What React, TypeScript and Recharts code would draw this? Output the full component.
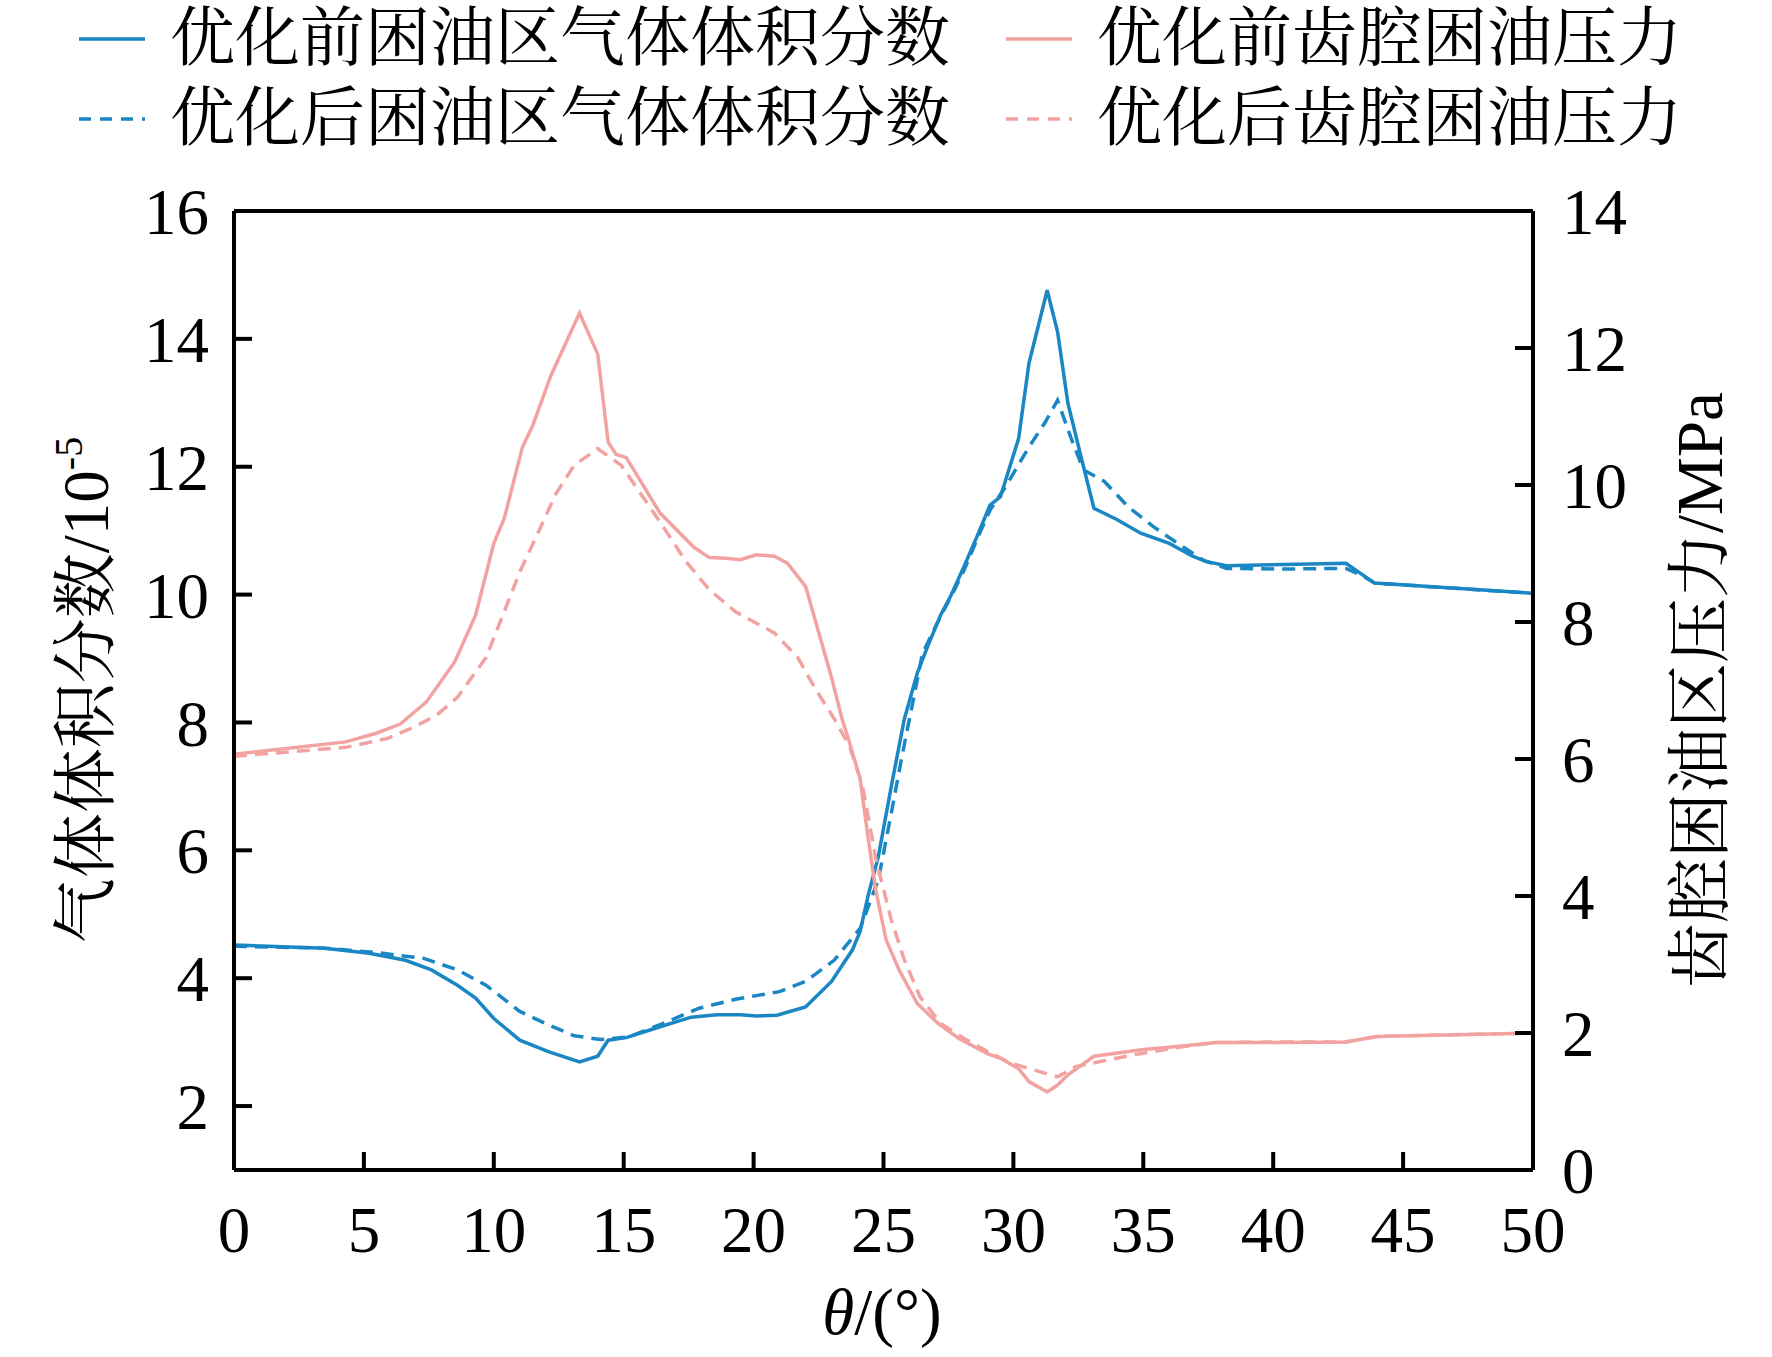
import React from 'react';
import { LineChart, Line, XAxis, YAxis } from 'recharts';

// angle axis and tick values
const thetaTicks = [0, 5, 10, 15, 20, 25, 30, 35, 40, 45, 50];
const gasTicks = [2, 4, 6, 8, 10, 12, 14, 16];
const pressureTicks = [0, 2, 4, 6, 8, 10, 12, 14];

// 优化前困油区气体体积分数 (10^-5)
const gasBeforeTheta = [
  0, 3.5, 5.2, 6.6, 7.6, 8.6, 9.3, 10.0, 11.0, 12.1, 13.3, 14.0, 14.4, 15.1, 16.4, 17.6, 18.6, 19.5,
  20.1, 20.9, 22.0, 23.0, 23.8, 24.1, 24.4, 24.8, 25.3, 25.8, 26.3, 26.7, 27.2, 27.6, 28.1, 28.6, 29.1,
  29.5, 30.2, 30.6, 31.3, 31.7, 32.1, 32.6, 33.1, 34.0, 34.9, 36.0, 36.9, 37.4, 38.2, 40.4, 42.8, 43.9, 50,
];
const gasBeforeValue = [
  4.52, 4.47, 4.39, 4.28, 4.13, 3.89, 3.69, 3.37, 3.03, 2.85, 2.69, 2.78, 3.03, 3.07, 3.24, 3.39, 3.43, 3.43,
  3.41, 3.42, 3.55, 3.95, 4.44, 4.73, 5.28, 5.9, 7.0, 8.05, 8.77, 9.19, 9.68, 9.99, 10.44, 10.91, 11.4,
  11.53, 12.44, 13.62, 14.76, 14.11, 12.99, 12.16, 11.35, 11.17, 10.96, 10.8, 10.6, 10.52, 10.45, 10.47, 10.49, 10.18, 10.02,
];

// 优化后困油区气体体积分数 (10^-5)
const gasAfterTheta = [
  0, 3.5, 5.5, 7.3, 8.6, 9.7, 11.0, 12.1, 13.1, 14.1, 15.2, 16.5, 17.9, 19.3, 21.0, 22.0, 23.1, 24.1,
  24.8, 25.3, 25.7, 26.2, 26.5, 27.1, 27.6, 28.1, 28.7, 29.1, 29.7, 30.6, 31.2, 31.7, 32.2, 32.7, 33.5,
  34.4, 35.4, 36.4, 37.3, 38.2, 40.4, 42.8, 43.5, 43.9, 50,
];
const gasAfterValue = [
  4.5, 4.47, 4.4, 4.31, 4.13, 3.89, 3.48, 3.27, 3.1, 3.04, 3.08, 3.29, 3.53, 3.67, 3.79, 3.95, 4.28, 4.78,
  5.54, 6.58, 7.45, 8.46, 9.08, 9.58, 9.97, 10.38, 10.96, 11.32, 11.69, 12.31, 12.68, 13.04, 12.47, 11.95, 11.77,
  11.38, 11.06, 10.78, 10.54, 10.41, 10.4, 10.41, 10.28, 10.18, 10.02,
];

// 优化前齿腔困油压力 (MPa)
const pressureBeforeTheta = [
  0, 4.3, 5.5, 6.4, 7.4, 8.5, 9.3, 10.0, 10.4, 11.1, 11.5, 12.2, 13.3, 14.0, 14.4, 14.7, 15.1, 16.4,
  17.7, 18.3, 18.9, 19.5, 20.1, 20.8, 21.3, 22.0, 23.0, 23.4, 23.7, 24.1, 24.4, 24.7, 25.1, 25.6, 26.3,
  27.1, 27.9, 29.0, 29.5, 30.2, 30.6, 31.3, 31.7, 32.1, 33.1, 35.0, 36.5, 37.8, 40.4, 42.8, 44.0, 50,
];
const pressureBeforeValue = [
  6.07, 6.25, 6.38, 6.51, 6.83, 7.42, 8.1, 9.15, 9.51, 10.55, 10.87, 11.6, 12.51, 11.91, 10.63, 10.45, 10.4, 9.59,
  9.09, 8.94, 8.93, 8.91, 8.98, 8.96, 8.86, 8.52, 7.19, 6.59, 6.23, 5.71, 4.87, 4.09, 3.36, 2.92, 2.43,
  2.14, 1.92, 1.7, 1.63, 1.48, 1.29, 1.14, 1.24, 1.39, 1.66, 1.76, 1.81, 1.86, 1.86, 1.87, 1.95, 2.0,
];

// 优化后齿腔困油压力 (MPa)
const pressureAfterTheta = [
  0, 4.3, 5.9, 6.9, 7.8, 8.6, 9.7, 10.4, 11.0, 11.7, 12.4, 13.1, 14.0, 14.9, 16.4, 17.4, 18.3, 19.3,
  20.8, 21.7, 22.4, 23.1, 23.7, 24.2, 24.7, 25.3, 25.8, 26.4, 27.2, 28.1, 29.0, 29.9, 30.8, 31.7, 32.4,
  33.3, 34.6, 36.5, 37.8, 40.4, 42.8, 44.0, 50,
];
const pressureAfterValue = [
  6.04, 6.17, 6.3, 6.46, 6.64, 6.9, 7.48, 8.15, 8.73, 9.3, 9.88, 10.29, 10.53, 10.29, 9.46, 8.88, 8.47, 8.15,
  7.84, 7.48, 7.01, 6.59, 6.18, 5.6, 4.55, 3.65, 3.07, 2.53, 2.14, 1.92, 1.73, 1.56, 1.46, 1.36, 1.51,
  1.58, 1.68, 1.8, 1.86, 1.87, 1.87, 1.95, 2.0,
];

const BLUE = '#1a87c4';
const PINK = '#f2a3a1';
const FONT = "'Liberation Serif', 'Times New Roman', 'Noto Serif CJK SC', 'Noto Sans CJK SC', serif";

const toPoints = (theta: number[], value: number[]) => theta.map((t, i) => ({ theta: t, value: value[i] }));

const series = [
  { name: '优化前困油区气体体积分数', color: BLUE, dash: undefined, axis: 'gas', data: toPoints(gasBeforeTheta, gasBeforeValue) },
  { name: '优化后困油区气体体积分数', color: BLUE, dash: '13 8', axis: 'gas', data: toPoints(gasAfterTheta, gasAfterValue) },
  { name: '优化前齿腔困油压力', color: PINK, dash: undefined, axis: 'pressure', data: toPoints(pressureBeforeTheta, pressureBeforeValue) },
  { name: '优化后齿腔困油压力', color: PINK, dash: '13 8', axis: 'pressure', data: toPoints(pressureAfterTheta, pressureAfterValue) },
];

const TICK_LEN = 18;
const AXIS_W = 4;

// legend order: column by column as in the figure
const legendSlots = [
  { s: 0, left: 79, top: 6 },
  { s: 1, left: 79, top: 86 },
  { s: 2, left: 1006, top: 6 },
  { s: 3, left: 1006, top: 86 },
];

function LegendBox() {
  return (
    <div style={{ position: 'absolute', left: 0, top: 0, width: 1772, height: 160, fontFamily: FONT }}>
      {legendSlots.map(({ s, left, top }) => (
        <div key={s} style={{ position: 'absolute', left, top, height: 65, display: 'flex', alignItems: 'center' }}>
          <svg width={66} height={10} style={{ display: 'block' }}>
            <line x1={0} x2={66} y1={5} y2={5} stroke={series[s].color} strokeWidth={3.5} strokeDasharray={series[s].dash ? '12 9' : undefined} />
          </svg>
          <span style={{ marginLeft: 25, fontSize: 65, lineHeight: '65px', color: '#000', whiteSpace: 'nowrap' }}>
            {series[s].name}
          </span>
        </div>
      ))}
    </div>
  );
}

const labelText = { fontSize: 65, fontFamily: FONT, fill: '#000' };
const axisStroke = { stroke: '#000', strokeWidth: AXIS_W };

export default function App() {
  return (
    <div style={{ position: 'absolute', left: 0, top: 0, width: 1772, height: 1357, background: '#fff' }}>
      <LineChart width={1772} height={1357} margin={{ top: 210, right: 139, bottom: 107, left: 134 }}>
        <XAxis
          type="number"
          dataKey="theta"
          domain={[0, 50]}
          ticks={thetaTicks}
          interval={0}
          height={80}
          tickSize={-TICK_LEN}
          tickMargin={54}
          tick={labelText}
          tickLine={axisStroke}
          axisLine={axisStroke}
          label={{
            content: () => (
              <text x={882} y={1311} dy="0.35em" textAnchor="middle" {...labelText}>
                <tspan fontStyle="italic">θ</tspan>/(°)
              </text>
            ),
          }}
        />
        <XAxis
          xAxisId="top"
          orientation="top"
          type="number"
          dataKey="theta"
          domain={[0, 50]}
          ticks={thetaTicks}
          interval={0}
          height={1}
          tickSize={-TICK_LEN}
          tickFormatter={() => ''}
          tickLine={axisStroke}
          axisLine={axisStroke}
        />
        <YAxis
          yAxisId="gas"
          type="number"
          domain={[1, 16]}
          ticks={gasTicks}
          interval={0}
          width={100}
          tickSize={-TICK_LEN}
          tickMargin={43}
          tick={labelText}
          tickLine={axisStroke}
          axisLine={axisStroke}
          label={{
            content: () => (
              <text x={85} y={690} dy="0.35em" textAnchor="middle" transform="rotate(-90, 85, 690)" {...labelText}>
                气体体积分数/10
                <tspan fontSize={40} dy={-26}>-5</tspan>
              </text>
            ),
          }}
        />
        <YAxis
          yAxisId="pressure"
          orientation="right"
          type="number"
          domain={[0, 14]}
          ticks={pressureTicks}
          interval={0}
          width={100}
          tickSize={-TICK_LEN}
          tickMargin={47}
          tick={labelText}
          tickLine={axisStroke}
          axisLine={axisStroke}
          label={{
            content: () => (
              <text x={1699} y={690} dy="0.35em" textAnchor="middle" transform="rotate(-90, 1699, 690)" {...labelText}>
                齿腔困油区压力/MPa
              </text>
            ),
          }}
        />
        {series.map((s) => (
          <Line
            key={s.name}
            name={s.name}
            data={s.data}
            dataKey="value"
            yAxisId={s.axis}
            type="linear"
            stroke={s.color}
            strokeWidth={3.5}
            strokeDasharray={s.dash}
            dot={false}
            activeDot={false}
            isAnimationActive={false}
          />
        ))}
      </LineChart>
      <LegendBox />
    </div>
  );
}
